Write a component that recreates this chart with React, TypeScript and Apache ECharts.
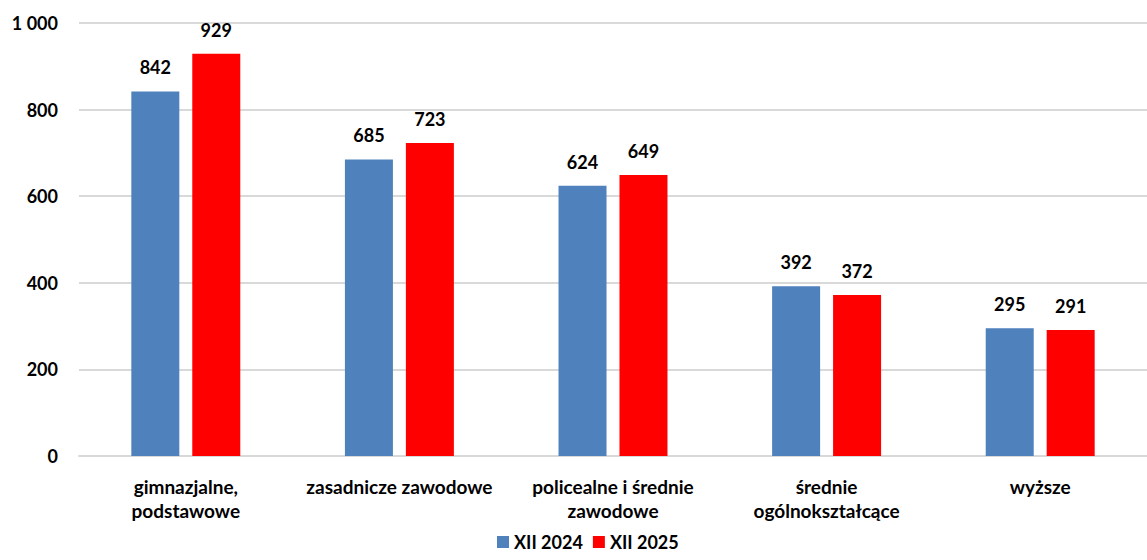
import React, { useEffect, useRef } from "react";
import * as echarts from "echarts";

const categories = [
  "gimnazjalne,\npodstawowe",
  "zasadnicze zawodowe",
  "policealne i średnie\nzawodowe",
  "średnie\nogólnokształcące",
  "wyższe",
];
const series2024 = [842, 685, 624, 392, 295];
const series2025 = [929, 723, 649, 372, 291];
const seriesNames = ["XII 2024", "XII 2025"];
const yTicks = { min: 0, max: 1000, interval: 200 };

const FONT = "Lato, 'Open Sans', sans-serif";

export default function App() {
  const ref = useRef<HTMLDivElement>(null);
  useEffect(() => {
    document.body.style.margin = "0";
    const chart = echarts.init(ref.current!, null, { renderer: "svg" });
    const label = {
      show: true,
      position: "top",
      distance: 15,
      fontFamily: FONT,
      fontWeight: "bold",
      fontSize: 18,
      color: "#000",
    };
    chart.setOption({
      animation: false,
      textStyle: { fontFamily: FONT },
      grid: { left: 79, right: 0, top: 23, bottom: 104, containLabel: false },
      legend: {
        top: 533,
        left: 497,
        padding: 0,
        itemWidth: 12,
        itemHeight: 12,
        itemGap: 10,
        icon: "rect",
        textStyle: { fontFamily: FONT, fontWeight: "bold", fontSize: 18, lineHeight: 18, color: "#000" },
        data: seriesNames,
      },
      xAxis: {
        type: "category",
        data: categories,
        axisLine: { lineStyle: { color: "#d9d9d9", width: 2 } },
        axisTick: { show: false },
        axisLabel: {
          interval: 0,
          margin: 18,
          fontFamily: FONT,
          fontWeight: "bold",
          fontSize: 19,
          lineHeight: 24,
          color: "#000",
        },
      },
      yAxis: {
        type: "value",
        min: yTicks.min,
        max: yTicks.max,
        interval: yTicks.interval,
        axisLine: { show: false },
        axisTick: { show: false },
        splitLine: { lineStyle: { color: "#d9d9d9", width: 2 } },
        axisLabel: {
          margin: 21,
          fontFamily: FONT,
          fontWeight: "bold",
          fontSize: 18,
          color: "#000",
          formatter: (v: number) => String(v).replace(/\B(?=(\d{3})+(?!\d))/g, " "),
        },
      },
      series: [
        {
          name: seriesNames[0],
          type: "bar",
          data: series2024,
          barWidth: 48,
          barGap: "27%",
          itemStyle: { color: "#4F81BD" },
          label,
        },
        {
          name: seriesNames[1],
          type: "bar",
          data: series2025,
          barWidth: 48,
          itemStyle: { color: "#FF0000" },
          label,
        },
      ],
    });
    return () => chart.dispose();
  }, []);
  return <div ref={ref} style={{ width: 1147, height: 560 }} />;
}
